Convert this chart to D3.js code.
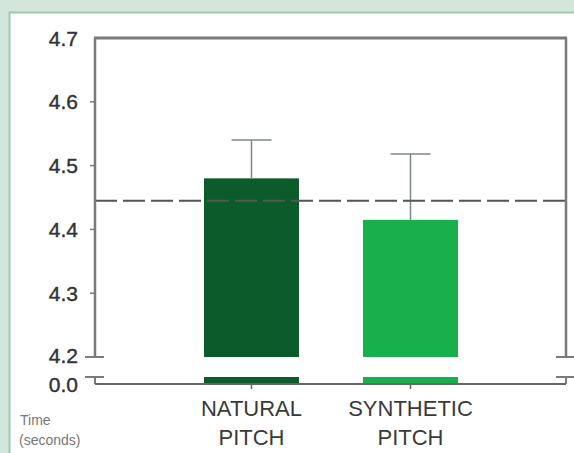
<!DOCTYPE html>
<html><head><meta charset="utf-8">
<script src="https://cdn.jsdelivr.net/npm/d3@7"></script>
<style>html,body{margin:0;padding:0;background:#fff}svg{display:block}</style>
</head><body>
<script>
const categories = ["NATURAL PITCH", "SYNTHETIC PITCH"];
const values = [4.48, 4.415];
const errorTops = [4.54, 4.518];
const referenceValue = 4.445;
const yTicks = [4.2, 4.3, 4.4, 4.5, 4.6, 4.7];
const yTickLabels = ["4.2", "4.3", "4.4", "4.5", "4.6", "4.7"];
const barColors = ["#0c5b2b", "#17b04c"];

const W = 574, H = 453;
const svg = d3.select("body").append("svg").attr("width", W).attr("height", H);

// frame
svg.append("rect").attr("x",0).attr("y",0).attr("width",W).attr("height",H).attr("fill","#d3e6da");
svg.append("rect").attr("x",10).attr("y",13).attr("width",W-10).attr("height",H-13).attr("fill","#fff");
svg.append("line").attr("x1",9.5).attr("x2",9.5).attr("y1",12).attr("y2",H).attr("stroke","#9ccaae").attr("stroke-width",2);
svg.append("line").attr("x1",9).attr("x2",W).attr("y1",12.5).attr("y2",12.5).attr("stroke","#9ccaae").attr("stroke-width",2);

const pLeft = 95, pRight = 566, pTop = 38, breakTop = 357, breakBot = 377, axisY = 384;
const y = d3.scaleLinear().domain([4.2, 4.7]).range([breakTop, pTop]);
const x = d3.scaleBand().domain(categories).range([204, 458]).paddingInner(0.4025).paddingOuter(0);

const axisColor = "#7a7a7a";

// bars (upper part)
svg.selectAll("rect.bar").data(categories).enter().append("rect")
  .attr("x", d => x(d)).attr("width", x.bandwidth())
  .attr("y", (d,i) => y(values[i])).attr("height", (d,i) => breakTop - y(values[i]))
  .attr("fill", (d,i) => barColors[i]);
// bars (lower part below break)
svg.selectAll("rect.barlow").data(categories).enter().append("rect")
  .attr("x", d => x(d)).attr("width", x.bandwidth())
  .attr("y", breakBot).attr("height", axisY - breakBot)
  .attr("fill", (d,i) => barColors[i]);

// error bars
categories.forEach((c,i) => {
  const cx = x(c) + x.bandwidth()/2;
  svg.append("line").attr("x1",cx).attr("x2",cx).attr("y1",y(errorTops[i])).attr("y2",y(values[i]))
    .attr("stroke","#7d8a80").attr("stroke-width",1.5);
  svg.append("line").attr("x1",cx-20).attr("x2",cx+20).attr("y1",y(errorTops[i])).attr("y2",y(errorTops[i]))
    .attr("stroke","#7d8a80").attr("stroke-width",1.5);
});

// reference dashed line
svg.append("line").attr("x1",pLeft).attr("x2",pRight).attr("y1",y(referenceValue)).attr("y2",y(referenceValue))
  .attr("stroke","#555").attr("stroke-width",2).attr("stroke-dasharray","22,6");

// box top
svg.append("line").attr("x1",pLeft-1).attr("x2",pRight+1).attr("y1",pTop).attr("y2",pTop).attr("stroke",axisColor).attr("stroke-width",3);
// left & right axes with break
[pLeft, pRight].forEach(ax => {
  svg.append("line").attr("x1",ax).attr("x2",ax).attr("y1",pTop).attr("y2",breakTop).attr("stroke",axisColor).attr("stroke-width",2.5);
  svg.append("line").attr("x1",ax-10).attr("x2",ax+9).attr("y1",breakTop).attr("y2",breakTop).attr("stroke",axisColor).attr("stroke-width",2);
  svg.append("line").attr("x1",ax-10).attr("x2",ax+9).attr("y1",breakBot).attr("y2",breakBot).attr("stroke",axisColor).attr("stroke-width",2);
  svg.append("line").attr("x1",ax).attr("x2",ax).attr("y1",breakBot).attr("y2",axisY).attr("stroke",axisColor).attr("stroke-width",2);
});
// x axis line
svg.append("line").attr("x1",pLeft).attr("x2",pRight).attr("y1",axisY).attr("y2",axisY).attr("stroke","#666").attr("stroke-width",2);

// y ticks (small outward)
svg.selectAll("line.yt").data(yTicks.filter(v => v > 4.2 && v < 4.7)).enter().append("line")
  .attr("x1",pLeft-5).attr("x2",pLeft).attr("y1",d=>y(d)).attr("y2",d=>y(d)).attr("stroke",axisColor).attr("stroke-width",1.5);
// y tick labels
svg.selectAll("text.yl").data(yTicks).enter().append("text")
  .attr("x",78).attr("y",d=>y(d) - (d === 4.2 ? 2 : 0)).attr("dy","0.36em").attr("text-anchor","end")
  .attr("font-family","Liberation Sans, Arial, sans-serif").attr("font-size",21).attr("fill","#333")
  .attr("stroke","#333").attr("stroke-width",0.4)
  .text((d,i)=>yTickLabels[i]);
svg.append("text").attr("x",78).attr("y",axisY).attr("dy","0.36em").attr("text-anchor","end")
  .attr("font-family","Liberation Sans, Arial, sans-serif").attr("font-size",21).attr("fill","#333")
  .attr("stroke","#333").attr("stroke-width",0.4).text("0.0");

// x ticks
categories.forEach(c => {
  const cx = x(c) + x.bandwidth()/2;
  svg.append("line").attr("x1",cx).attr("x2",cx).attr("y1",axisY).attr("y2",axisY+5).attr("stroke","#666").attr("stroke-width",1.5);
});
// x labels
categories.forEach(c => {
  const cx = x(c) + x.bandwidth()/2;
  const parts = c.split(" ");
  parts.forEach((p,j) => {
    svg.append("text").attr("x",cx).attr("y",416 + j*29).attr("text-anchor","middle")
      .attr("font-family","Liberation Sans, Arial, sans-serif").attr("font-size",22).attr("fill","#3a3a3a")
      .text(p);
  });
});

// axis title
svg.append("text").attr("x",20).attr("y",425).attr("font-family","Liberation Sans, Arial, sans-serif")
  .attr("font-size",14).attr("fill","#777").text("Time");
svg.append("text").attr("x",19).attr("y",445).attr("font-family","Liberation Sans, Arial, sans-serif")
  .attr("font-size",14).attr("fill","#777").text("(seconds)");
</script>
</body></html>
